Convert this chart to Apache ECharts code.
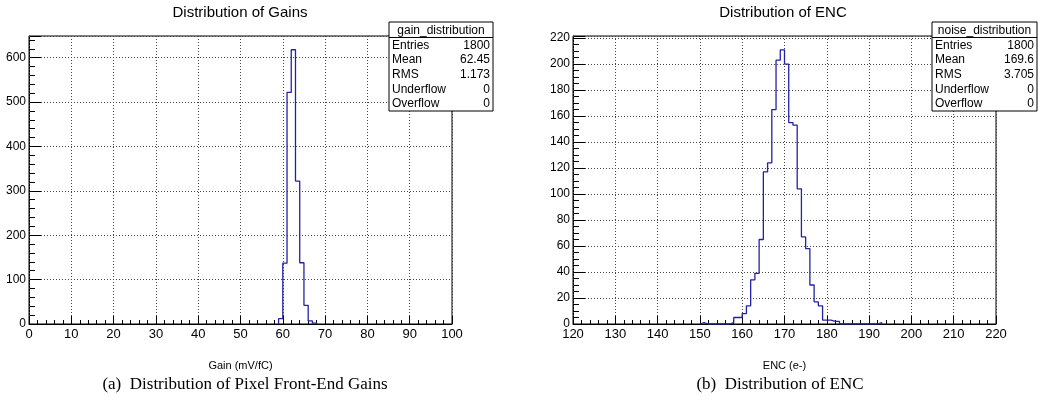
<!DOCTYPE html>
<html>
<head>
<meta charset="utf-8">
<script src="https://cdn.jsdelivr.net/npm/echarts/dist/echarts.min.js"></script>
<style>
	html, body { margin: 0; padding: 0; background: #fff; }
	#main { width: 1038px; height: 408px; }
</style>
</head>
<body>
<div id="main"></div>
<script>
// gain histogram, 1 mV/fC bins starting at gainStart
var gainStart = 59
var gainCounts = [12, 137, 522, 618, 322, 138, 42, 7, 2]
// ENC histogram, 1 e- bins starting at encStart
var encStart = 150
var encCounts = [1, 0, 0, 0, 0, 0, 0, 1, 5, 5, 8, 14, 34, 39, 65, 117, 124, 165, 203, 211,
	200, 155, 153, 104, 67, 58, 30, 17, 14, 3, 3, 2, 2, 0, 0, 0, 0, 0, 0, 0, 0, 0, 1]

var statLabels = ['Entries', 'Mean', 'RMS', 'Underflow', 'Overflow']
var gainStatValues = ['1800', '62.45', '1.173', '0', '0']
var encStatValues = ['1800', '169.6', '3.705', '0', '0']

var gainRange = [0, 100]
var encRange = [120, 220]
var gainYMax = 649
var encYMax = 221.6

var sans = '"Liberation Sans", Arial, Helvetica, sans-serif'
var serif = '"Liberation Serif", "Times New Roman", serif'
var lineColor = '#2222a6'

// turn bin counts into step points (ROOT style outline)
const histPoints = (start, counts) => {
	let pts = [[start, 0]]
	counts.map((c, i) => {
		pts.push([start + i, c])
	})
	pts.push([start + counts.length, 0])
	return pts
}

// stats box like TPaveStats
const statBox = (x, y, w, name, values) => {
	let headH = 15.5
	let rowH = 14.7
	let children = [{
		type: 'rect',
		z: 100,
		shape: { x: x, y: y, width: w, height: headH + rowH * statLabels.length },
		style: { fill: '#fff', stroke: '#000', lineWidth: 1 }
	}, {
		type: 'line',
		z: 101,
		shape: { x1: x, y1: y + headH, x2: x + w, y2: y + headH },
		style: { stroke: '#000', lineWidth: 1 }
	}, {
		type: 'text',
		z: 101,
		x: x + w / 2,
		y: y + headH / 2 + 1,
		style: { text: name, font: '12px ' + sans, fill: '#000', textAlign: 'center', textVerticalAlign: 'middle' }
	}]
	statLabels.map((lab, i) => {
		let cy = y + headH + rowH * (i + 0.5) + 0.5
		children.push({
			type: 'text', z: 101, x: x + 3, y: cy,
			style: { text: lab, font: '12px ' + sans, fill: '#000', textAlign: 'left', textVerticalAlign: 'middle' }
		})
		children.push({
			type: 'text', z: 101, x: x + w - 3, y: cy,
			style: { text: values[i], font: '12px ' + sans, fill: '#000', textAlign: 'right', textVerticalAlign: 'middle' }
		})
	})
	return { type: 'group', z: 100, children: children }
}

const textEl = (x, y, text, font) => ({
	type: 'text', x: x, y: y, z: 100,
	style: { text: text, font: font, fill: '#000', textAlign: 'center', textVerticalAlign: 'middle' }
})

const xAxisCfg = (idx, range, name) => ({
	type: 'value',
	gridIndex: idx,
	z: 3,
	min: range[0],
	max: range[1],
	interval: 10,
	name: name,
	nameLocation: 'middle',
	nameGap: 36,
	nameTextStyle: { color: '#000', fontSize: 11, fontFamily: sans },
	axisLine: { lineStyle: { color: '#000', width: 1 } },
	axisTick: { inside: true, length: 8, lineStyle: { color: '#000' } },
	minorTick: { show: true, splitNumber: 5, length: 4, lineStyle: { color: '#000' } },
	axisLabel: { color: '#000', fontSize: 13, fontFamily: sans, margin: 4 },
	splitLine: { show: true, lineStyle: { color: '#444', type: [1, 2], width: 1 } }
})

const yAxisCfg = (idx, max, interval, minorSplit) => ({
	type: 'value',
	gridIndex: idx,
	min: 0,
	max: max,
	interval: interval,
	axisLine: { show: true, lineStyle: { color: '#000', width: 1 } },
	axisTick: { show: true, inside: true, length: 12, lineStyle: { color: '#000' } },
	minorTick: { show: true, splitNumber: minorSplit, length: 6, lineStyle: { color: '#000' } },
	axisLabel: { color: '#000', fontSize: 12, fontFamily: sans, margin: 3, showMaxLabel: false },
	splitLine: { show: true, lineStyle: { color: '#444', type: [1, 2], width: 1 } }
})

var chartDom = document.getElementById('main')
var myChart = echarts.init(chartDom)
var option

option = {
	animation: false,
	backgroundColor: '#fff',
	grid: [
		{ left: 29, top: 36, width: 423, height: 288, show: true, borderColor: '#000', borderWidth: 1 },
		{ left: 573, top: 36, width: 423, height: 288, show: true, borderColor: '#000', borderWidth: 1 }
	],
	xAxis: [
		xAxisCfg(0, gainRange, 'Gain (mV/fC)'),
		xAxisCfg(1, encRange, 'ENC (e-)')
	],
	yAxis: [
		yAxisCfg(0, gainYMax, 100, 5),
		yAxisCfg(1, encYMax, 20, 4)
	],
	series: [{
		type: 'line',
		name: 'gain_distribution',
		xAxisIndex: 0,
		yAxisIndex: 0,
		step: 'end',
		showSymbol: false,
		lineStyle: { color: lineColor, width: 1.3 },
		data: histPoints(gainStart, gainCounts)
	}, {
		type: 'line',
		name: 'noise_distribution',
		xAxisIndex: 1,
		yAxisIndex: 1,
		step: 'end',
		showSymbol: false,
		lineStyle: { color: lineColor, width: 1.3 },
		data: histPoints(encStart, encCounts)
	}],
	graphic: {
		elements: [
			textEl(240, 13, 'Distribution of Gains', '15px ' + sans),
			textEl(783, 13, 'Distribution of ENC', '15px ' + sans),
			statBox(389, 22, 104, 'gain_distribution', gainStatValues),
			statBox(932, 22, 105, 'noise_distribution', encStatValues),
			textEl(245, 385, '(a)  Distribution of Pixel Front-End Gains', '17px ' + serif),
			textEl(780, 385, '(b)  Distribution of ENC', '17px ' + serif)
		]
	}
}

option && myChart.setOption(option)
</script>
</body>
</html>
